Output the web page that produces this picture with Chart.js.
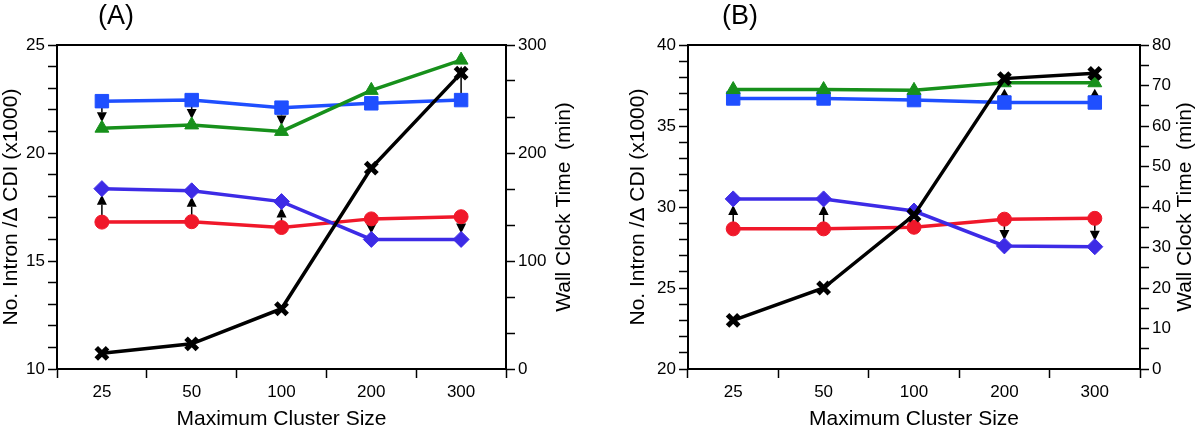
<!DOCTYPE html>
<html>
<head>
<meta charset="utf-8">
<script src="https://cdn.jsdelivr.net/npm/chart.js@4/dist/chart.umd.min.js"></script>
<style>
  body { margin: 0; background: #fff; }
  .wrap { display: flex; width: 1200px; height: 427px; }
  .panel { position: relative; width: 600px; height: 427px; }
</style>
</head>
<body>
<div class="wrap">
  <div class="panel"><canvas id="chartA"></canvas></div>
  <div class="panel"><canvas id="chartB"></canvas></div>
</div>
<script>
'use strict';

let clusterSizes = ['25', '50', '100', '200', '300'];

// panel (A)
let squareA = [22.4, 22.45, 22.1, 22.3, 22.45];
let triangleA = [21.15, 21.3, 21.0, 22.9, 24.3];
let diamondA = [18.35, 18.25, 17.75, 16.0, 16.0];
let circleA = [16.8, 16.82, 16.55, 16.95, 17.05];
let timeA = [14.5, 23.3, 55.8, 186, 274];
let leftTicksA = [10, 15, 20, 25];
let rightTicksA = [0, 100, 200, 300];

// panel (B)
let squareB = [36.7, 36.7, 36.6, 36.45, 36.45];
let triangleB = [37.25, 37.25, 37.2, 37.67, 37.67];
let diamondB = [30.5, 30.5, 29.75, 27.6, 27.55];
let circleB = [28.65, 28.65, 28.75, 29.25, 29.3];
let timeB = [12, 20, 38, 71.7, 73];
let leftTicksB = [20, 25, 30, 35, 40];
let rightTicksB = [0, 10, 20, 30, 40, 50, 60, 70, 80];

const FONT = '"Liberation Sans", Arial, Helvetica, sans-serif';
const BLUE = '#1f4fff';
const GREEN = '#17901b';
const PURPLE = '#3d2be6';
const RED = '#f0182a';

// extra per-panel stuff for the plugins
let panels = {
    chartA: { label: '(A)', labelX: 116, leftTitleX: 11, rightTitleX: 564,
        pairs: [[squareA, triangleA], [circleA, diamondA]] },
    chartB: { label: '(B)', labelX: 140, leftTitleX: 38, rightTitleX: 585,
        pairs: [[squareB, triangleB], [circleB, diamondB]] }
};

function subdivide(majors, parts) {
    let out = [];
    for (let i = 0; i < majors.length - 1; i++) {
        for (let k = 0; k < parts; k++) {
            out.push(majors[i] + k * (majors[i + 1] - majors[i]) / parts);
        }
    }
    out.push(majors[majors.length - 1]);
    return out;
}

const framePlugin = {
    id: 'frame',
    afterDraw(chart) {
        let p = panels[chart.canvas.id];
        let ctx = chart.ctx;
        let a = chart.chartArea;
        ctx.save();
        ctx.strokeStyle = '#000';
        ctx.lineWidth = 2;
        ctx.strokeRect(a.left, a.top, a.right - a.left, a.bottom - a.top);

        ctx.fillStyle = '#000';
        ctx.textAlign = 'center';
        ctx.textBaseline = 'alphabetic';
        ctx.font = '27px ' + FONT;
        ctx.fillText(p.label, p.labelX, 24);

        ctx.font = '21px ' + FONT;
        ctx.fillText('Maximum Cluster Size', (a.left + a.right) / 2, 425);

        let midY = (a.top + a.bottom) / 2;
        ctx.textBaseline = 'middle';
        let titles = [[p.leftTitleX, 'No. Intron /\u0394 CDI (x1000)'], [p.rightTitleX, 'Wall Clock Time  (min)']];
        titles.forEach(function (t) {
            ctx.save();
            ctx.translate(t[0], midY);
            ctx.rotate(-Math.PI / 2);
            ctx.fillText(t[1], 0, 0);
            ctx.restore();
        });
        ctx.restore();
    }
};

const arrowPlugin = {
    id: 'arrows',
    beforeDatasetsDraw(chart) {
        let p = panels[chart.canvas.id];
        let ctx = chart.ctx;
        let xs = chart.scales.x;
        let ys = chart.scales.y;
        ctx.save();
        ctx.strokeStyle = '#000';
        ctx.fillStyle = '#000';
        ctx.lineWidth = 1.5;
        p.pairs.forEach(function (pair) {
            let from = pair[0], to = pair[1];
            for (let i = 0; i < from.length; i++) {
                let x = xs.getPixelForValue(i);
                let y1 = ys.getPixelForValue(from[i]);
                let y2 = ys.getPixelForValue(to[i]);
                let dir = Math.sign(y2 - y1);
                let start = y1 + dir * 5;
                let tip = y2 - dir * 6;
                let len = Math.abs(tip - start);
                if (len < 6) continue;
                let head = Math.min(10, len);
                let base = tip - dir * head;
                if (len > head) {
                    ctx.beginPath();
                    ctx.moveTo(x, start);
                    ctx.lineTo(x, base);
                    ctx.stroke();
                }
                ctx.beginPath();
                ctx.moveTo(x, tip);
                ctx.lineTo(x - 5, base);
                ctx.lineTo(x + 5, base);
                ctx.closePath();
                ctx.fill();
            }
        });
        ctx.restore();
    }
};

function series(data, color, style, radius, axis, pw) {
    return {
        data: data,
        borderColor: color,
        backgroundColor: color,
        pointStyle: style,
        pointRadius: radius,
        pointBorderWidth: pw || 1,
        borderWidth: 3.5,
        yAxisID: axis,
        tension: 0
    };
}

function yAxis(position, majors, parts, width) {
    let ticks = subdivide(majors, parts);
    return {
        position: position,
        min: majors[0],
        max: majors[majors.length - 1],
        afterBuildTicks: function (s) { s.ticks = ticks.map(v => ({ value: v })); },
        afterFit: function (s) { s.width = width; },
        ticks: {
            autoSkip: false, padding: 3, color: '#000',
            font: { size: 17, family: FONT },
            callback: v => majors.includes(v) ? String(v) : ''
        },
        grid: { drawOnChartArea: false, tickLength: 9, tickWidth: 1.5, tickColor: '#000' },
        border: { color: '#000', width: 2 }
    };
}

function makeChart(id, sets, leftMajors, leftParts, rightMajors, rightParts, leftW, rightW) {
    let ctx = document.getElementById(id).getContext('2d');
    return new Chart(ctx, {
        type: 'line',
        data: {
            labels: clusterSizes,
            datasets: [
                series(sets.time, '#000', 'crossRot', 8, 'y2', 5),
                series(sets.diamond, PURPLE, 'rectRot', 8, 'y'),
                series(sets.circle, RED, 'circle', 7, 'y'),
                series(sets.triangle, GREEN, 'triangle', 8, 'y'),
                series(sets.square, BLUE, 'rect', 9.5, 'y')
            ]
        },
        options: {
            responsive: true,
            maintainAspectRatio: false,
            animation: false,
            events: [],
            layout: { padding: { top: 45, left: 0, right: 0, bottom: 0 } },
            plugins: { legend: { display: false }, tooltip: { enabled: false } },
            scales: {
                x: {
                    type: 'category',
                    offset: true,
                    afterFit: function (s) { s.height = 58; },
                    ticks: { padding: 4, color: '#000', font: { size: 17, family: FONT } },
                    grid: { offset: true, drawOnChartArea: false, tickLength: 9, tickWidth: 1.5, tickColor: '#000' },
                    border: { color: '#000', width: 2 }
                },
                y: yAxis('left', leftMajors, leftParts, leftW),
                y2: yAxis('right', rightMajors, rightParts, rightW)
            }
        },
        plugins: [arrowPlugin, framePlugin]
    });
}

makeChart('chartA', { time: timeA, diamond: diamondA, circle: circleA, triangle: triangleA, square: squareA },
    leftTicksA, 5, rightTicksA, 3, 57, 94);
makeChart('chartB', { time: timeB, diamond: diamondB, circle: circleB, triangle: triangleB, square: squareB },
    leftTicksB, 5, rightTicksB, 2, 88, 60);
</script>
</body>
</html>
